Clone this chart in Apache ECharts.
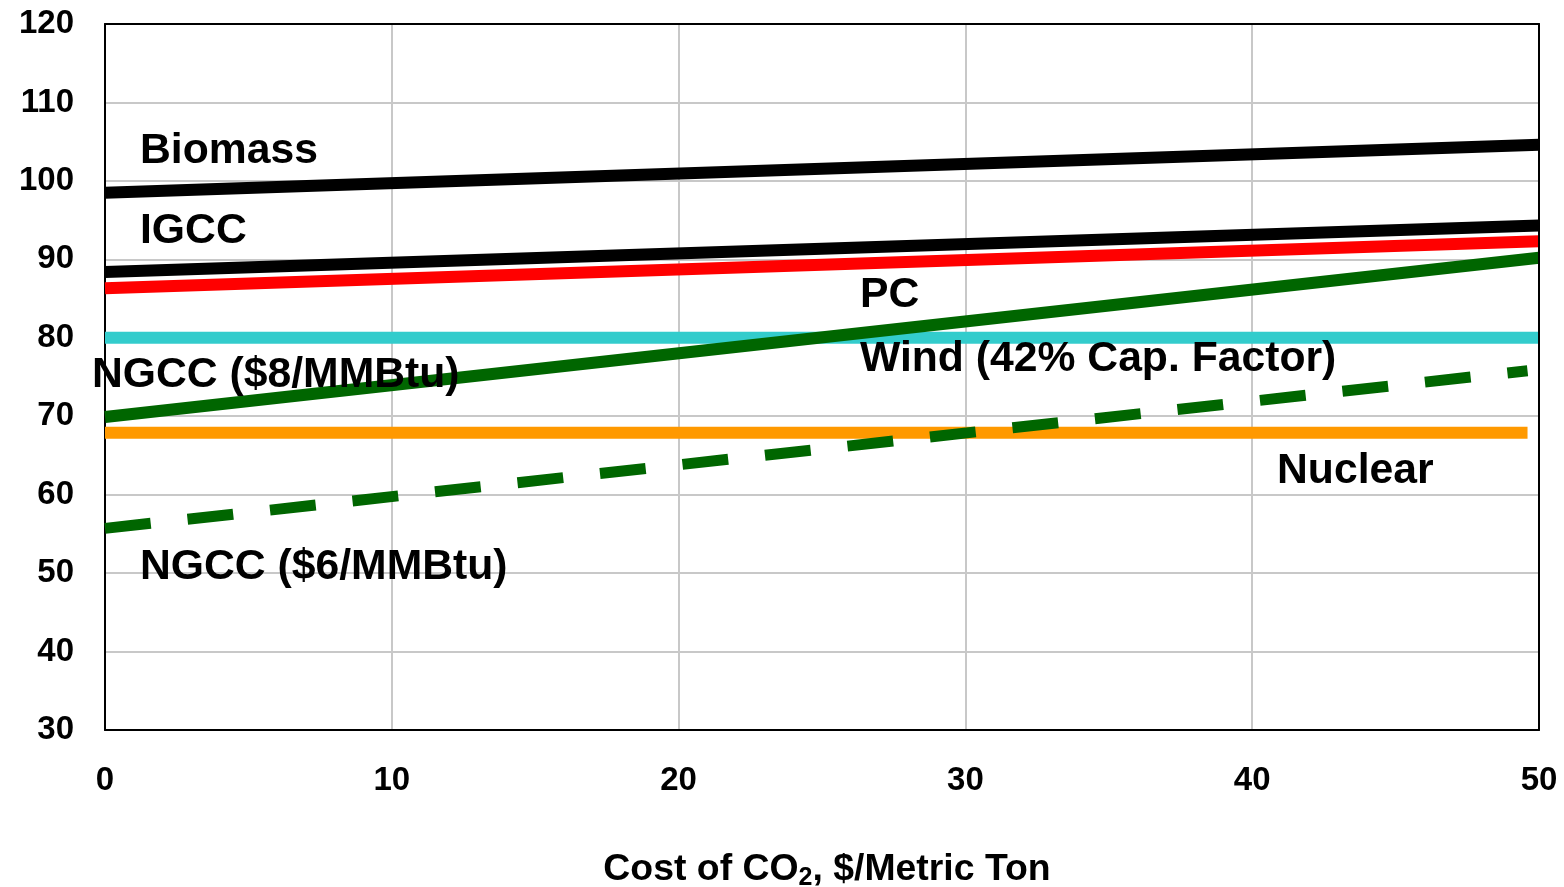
<!DOCTYPE html>
<html>
<head>
<meta charset="utf-8">
<script src="https://cdn.jsdelivr.net/npm/echarts@6/dist/echarts.min.js"></script>
<style>html,body{margin:0;padding:0;background:#fff}#c{width:1564px;height:887px}</style>
</head>
<body>
<div id="c"></div>
<script>
// CO2 cost ($/metric ton) on x
const xFull = [0, 50];
const xShort = [0, 49.6];
const biomass = [98.5, 104.6];
const igcc = [88.4, 94.3];
const pc = [86.3, 92.3];
const ngcc8 = [69.9, 90.2];
const wind = [80, 80];
const nuclear = [67.9, 67.9];
const ngcc6 = [55.7, 75.8];
const xTicks = [0, 10, 20, 30, 40, 50];
const yTicks = [30, 40, 50, 60, 70, 80, 90, 100, 110, 120];

const labelFont = 'Liberation Sans, Arial, sans-serif';
function pts(xs, ys) { return xs.map((x, i) => [x, ys[i]]); }
function solid(name, xs, ys, color) {
  return { name, type: 'line', data: pts(xs, ys), symbol: 'none', silent: true,
    lineStyle: { color, width: 12, cap: 'butt' }, animation: false, z: 3 };
}
const lf = 'bold 42.7px ' + labelFont;
const xMin = xTicks[0], xMax = xTicks[xTicks.length - 1];
const yMin = yTicks[0], yMax = yTicks[yTicks.length - 1];

const chart = echarts.init(document.getElementById('c'));
chart.setOption({
  backgroundColor: '#fff',
  animation: false,
  grid: { left: 105, right: 25, top: 24, bottom: 157, outerBoundsMode: 'none', containLabel: false,
    show: false },
  xAxis: [{
    type: 'value', min: xMin, max: xMax, interval: 10,
    axisLine: { show: true, lineStyle: { color: '#000', width: 2 } },
    axisTick: { show: false },
    splitLine: { show: true, lineStyle: { color: '#c8c8c8', width: 2 } },
    axisLabel: { color: '#000', fontFamily: labelFont, fontWeight: 'bold', fontSize: 33, margin: 34 },
    name: 'Cost of CO{sub|2}, $/Metric Ton',
    nameLocation: 'middle', nameGap: 118,
    nameTextStyle: { color: '#000', fontFamily: labelFont, fontWeight: 'bold', fontSize: 37.4, padding: [0, 0, 0, 10],
      rich: { sub: { fontFamily: labelFont, fontWeight: 'bold', fontSize: 25, verticalAlign: 'bottom', padding: [18, 0, 0, 0], color: '#000' } } }
  }, {
    type: 'value', position: 'top', min: xMin, max: xMax, interval: 10, z: 5,
    axisLine: { show: true, onZero: false, lineStyle: { color: '#000', width: 2 } },
    axisTick: { show: false }, axisLabel: { show: false }, splitLine: { show: false }
  }],
  yAxis: [{
    type: 'value', min: yMin, max: yMax, interval: 10,
    axisLine: { show: true, lineStyle: { color: '#000', width: 2 } },
    axisTick: { show: false },
    splitLine: { show: true, lineStyle: { color: '#c8c8c8', width: 2 } },
    axisLabel: { color: '#000', fontFamily: labelFont, fontWeight: 'bold', fontSize: 33, margin: 31 }
  }, {
    type: 'value', position: 'right', min: yMin, max: yMax, interval: 10, z: 5,
    axisLine: { show: true, onZero: false, lineStyle: { color: '#000', width: 2 } },
    axisTick: { show: false }, axisLabel: { show: false }, splitLine: { show: false }
  }],
  series: [
    solid('Biomass', xFull, biomass, '#000000'),
    solid('IGCC', xFull, igcc, '#000000'),
    solid('PC', xFull, pc, '#ff0000'),
    solid('Wind', xFull, wind, '#33cccc'),
    solid('Nuclear', xShort, nuclear, '#ff9900'),
    solid('NGCC ($8/MMBtu)', xFull, ngcc8, '#006600'),
    { name: 'NGCC ($6/MMBtu)', type: 'line', data: pts(xShort, ngcc6), symbol: 'none', silent: true,
      lineStyle: { color: '#006600', width: 11, type: [46, 37], cap: 'butt' }, z: 3 }
  ],
  graphic: [
    { type: 'text', left: 140, top: 130, z: 10, style: { text: 'Biomass', font: lf, fill: '#000' } },
    { type: 'text', left: 140, top: 210, z: 10, style: { text: 'IGCC', font: lf, fill: '#000' } },
    { type: 'text', left: 860, top: 274, z: 10, style: { text: 'PC', font: lf, fill: '#000' } },
    { type: 'text', left: 860, top: 338, z: 10, style: { text: 'Wind (42% Cap. Factor)', font: lf, fill: '#000' } },
    { type: 'text', left: 92, top: 354, z: 10, style: { text: 'NGCC ($8/MMBtu)', font: lf, fill: '#000' } },
    { type: 'text', left: 1277, top: 450, z: 10, style: { text: 'Nuclear', font: lf, fill: '#000' } },
    { type: 'text', left: 140, top: 546, z: 10, style: { text: 'NGCC ($6/MMBtu)', font: lf, fill: '#000' } }
  ]
});
</script>
</body>
</html>
